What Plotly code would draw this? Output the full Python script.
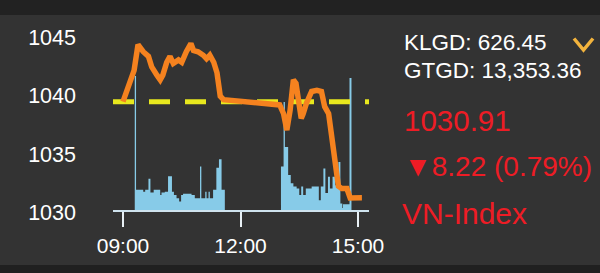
import plotly.graph_objects as go

DAY = "2019-03-15 "

# Price (VN-Index) intraday
price_times = ["09:00", "09:17", "09:23", "09:31", "09:39", "09:44", "09:52", "09:57",
               "10:01", "10:07", "10:12", "10:17", "10:25", "10:30", "10:37", "10:44",
               "10:48", "10:55", "11:03", "11:08", "11:13", "11:19", "11:24", "11:29",
               "11:34", "13:00", "13:06", "13:11", "13:16", "13:21", "13:25", "13:29",
               "13:33", "13:36", "13:41", "13:49", "13:57", "14:04", "14:09", "14:15",
               "14:20", "14:25", "14:30", "14:35", "14:43", "14:48", "15:06"]
price_values = [1039.13, 1041.8, 1044.0, 1043.4, 1043.0, 1042.1, 1041.4, 1041.0,
                1041.4, 1042.5, 1043.0, 1042.4, 1042.7, 1042.5, 1043.4, 1044.1,
                1043.5, 1043.4, 1043.1, 1042.8, 1043.1, 1042.5, 1041.6, 1039.6,
                1039.3, 1038.85, 1038.1, 1036.7, 1038.4, 1041.0, 1040.7, 1039.3,
                1037.7, 1038.1, 1039.0, 1040.0, 1040.1, 1040.0, 1038.7, 1038.1,
                1036.1, 1033.9, 1031.9, 1031.7, 1031.7, 1030.9, 1030.91]

reference_price = 1039.13

# Volume (step series)
vol_times = ["09:18", "09:20", "09:31", "09:34", "09:39", "09:42", "09:47", "09:57",
             "09:59", "10:04", "10:09", "10:15", "10:18", "10:22", "10:26", "10:29",
             "10:32", "10:45", "10:50", "10:58", "11:00", "11:06", "11:08", "11:11",
             "11:13", "11:18", "11:23", "11:27", "11:31", "11:36",
             "13:02", "13:06", "13:08", "13:13", "13:17", "13:21", "13:26", "13:30",
             "13:33", "13:36", "13:40", "13:44", "13:49", "13:57", "14:00", "14:03",
             "14:07", "14:10", "14:14", "14:17", "14:21", "14:25", "14:30", "14:33",
             "14:36", "14:37", "14:47", "14:50"]
vol_values = [20.6, 3.1, 2.8, 3.1, 4.8, 2.7, 3.1, 2.3,
              2.7, 2.8, 5.2, 2.8, 2.3, 1.8, 1.3, 2.3,
              2.5, 2.3, 1.8, 6.7, 1.8, 2.8, 1.8, 2.8,
              1.8, 3.1, 6.5, 7.8, 3.1, 0,
              6.7, 16.6, 9.7, 5.4, 4.1, 3.6, 3.3, 2.3,
              3.6, 2.3, 3.3, 3.3, 3.6, 3.6, 1.5, 3.6,
              6.4, 2.6, 5.1, 3.3, 5.1, 3.8, 7.4, 1.0,
              0.3, 0.9, 20.3, 0]

tick_times = ["09:00", "12:00", "15:00"]
tick_labels = ["09:00", "12:00", "15:00"]
price_ticks = [1030, 1035, 1040, 1045]

info_klgd = "KLGD: 626.45"
info_gtgd = "GTGD: 13,353.36"
last_value = "1030.91"
change_text = "▼8.22 (0.79%)"
index_name = "VN-Index"

# geometry
W, H = 600, 273
L, R, T, B = 113, 369, 15, 210


def xp(px):
    return (px - L) / (R - L)


def yp(py):
    return (B - py) / (B - T)


FONT = "Arial, Liberation Sans, Helvetica, sans-serif"
BG = "#333333"

fig = go.Figure()

fig.add_trace(go.Scatter(
    x=[DAY + t for t in vol_times], y=vol_values, mode="lines",
    line=dict(width=0, shape="hv", color="#87cbe8"),
    fill="tozeroy", fillcolor="#87cbe8", yaxis="y", hoverinfo="skip",
    showlegend=False))

x_start = DAY + "08:44:41"
x_end = DAY + "15:16:51"

fig.add_trace(go.Scatter(
    x=[x_start, x_end], y=[reference_price, reference_price], mode="lines",
    line=dict(color="#e8e81e", width=5, dash="21px,15px"), yaxis="y2",
    showlegend=False, hoverinfo="skip"))

fig.add_trace(go.Scatter(
    x=[DAY + t for t in price_times], y=price_values, mode="lines",
    line=dict(color="#f5821f", width=5.5), yaxis="y2", showlegend=False))

fig.update_layout(
    width=W, height=H,
    margin=dict(l=L, r=W - R, t=T, b=H - B, pad=0),
    paper_bgcolor=BG, plot_bgcolor=BG,
    font=dict(family=FONT, color="#ffffff", size=21),
    xaxis=dict(type="date", range=[x_start, x_end],
               tickvals=[DAY + t for t in tick_times], ticktext=tick_labels,
               showgrid=False, zeroline=False,
               showline=True, linecolor="#cfe3ee", linewidth=2,
               ticks="outside", ticklen=15, tickwidth=2, tickcolor="#e8f0f5",
               ticklabelstandoff=1,
               tickfont=dict(size=21, color="#ffffff", family=FONT)),
    yaxis=dict(range=[0, 30], visible=False, fixedrange=True),
    yaxis2=dict(range=[1029.87, 1046.54], overlaying="y", side="left",
                tickvals=price_ticks, showgrid=False, zeroline=False,
                showline=False, ticks="", ticklabelstandoff=36,
                ticklabelshift=4,
                tickfont=dict(size=21.5, color="#ffffff", family=FONT)),
    shapes=[
        dict(type="rect", xref="paper", yref="paper", x0=xp(0), x1=xp(W),
             y0=yp(15), y1=yp(0), fillcolor="#222222", line=dict(width=0),
             layer="below"),
        dict(type="rect", xref="paper", yref="paper", x0=xp(0), x1=xp(W),
             y0=yp(H), y1=yp(265), fillcolor="#202020", line=dict(width=0),
             layer="below"),
        dict(type="path", xref="paper", yref="paper",
             path=f"M {xp(574)},{yp(38.5)} L {xp(583.5)},{yp(50)} L {xp(593)},{yp(38.5)}",
             line=dict(color="#f2b33d", width=3.5)),
    ],
)

ann = [
    (info_klgd, 403, 42.7, 22.5, "#ffffff"),
    (info_gtgd, 403, 70, 22.5, "#ffffff"),
    (last_value, 403, 120, 29.5, "#ee1c25"),
    (change_text, 403, 166.7, 28, "#ee1c25"),
    (index_name, 401, 213.3, 30, "#ee1c25"),
]
for text, px, py, size, color in ann:
    fig.add_annotation(text=text, xref="paper", yref="paper", x=xp(px), y=yp(py),
                       xanchor="left", yanchor="middle", showarrow=False,
                       font=dict(size=size, color=color, family=FONT), borderpad=0)

fig.write_html("out.html")
